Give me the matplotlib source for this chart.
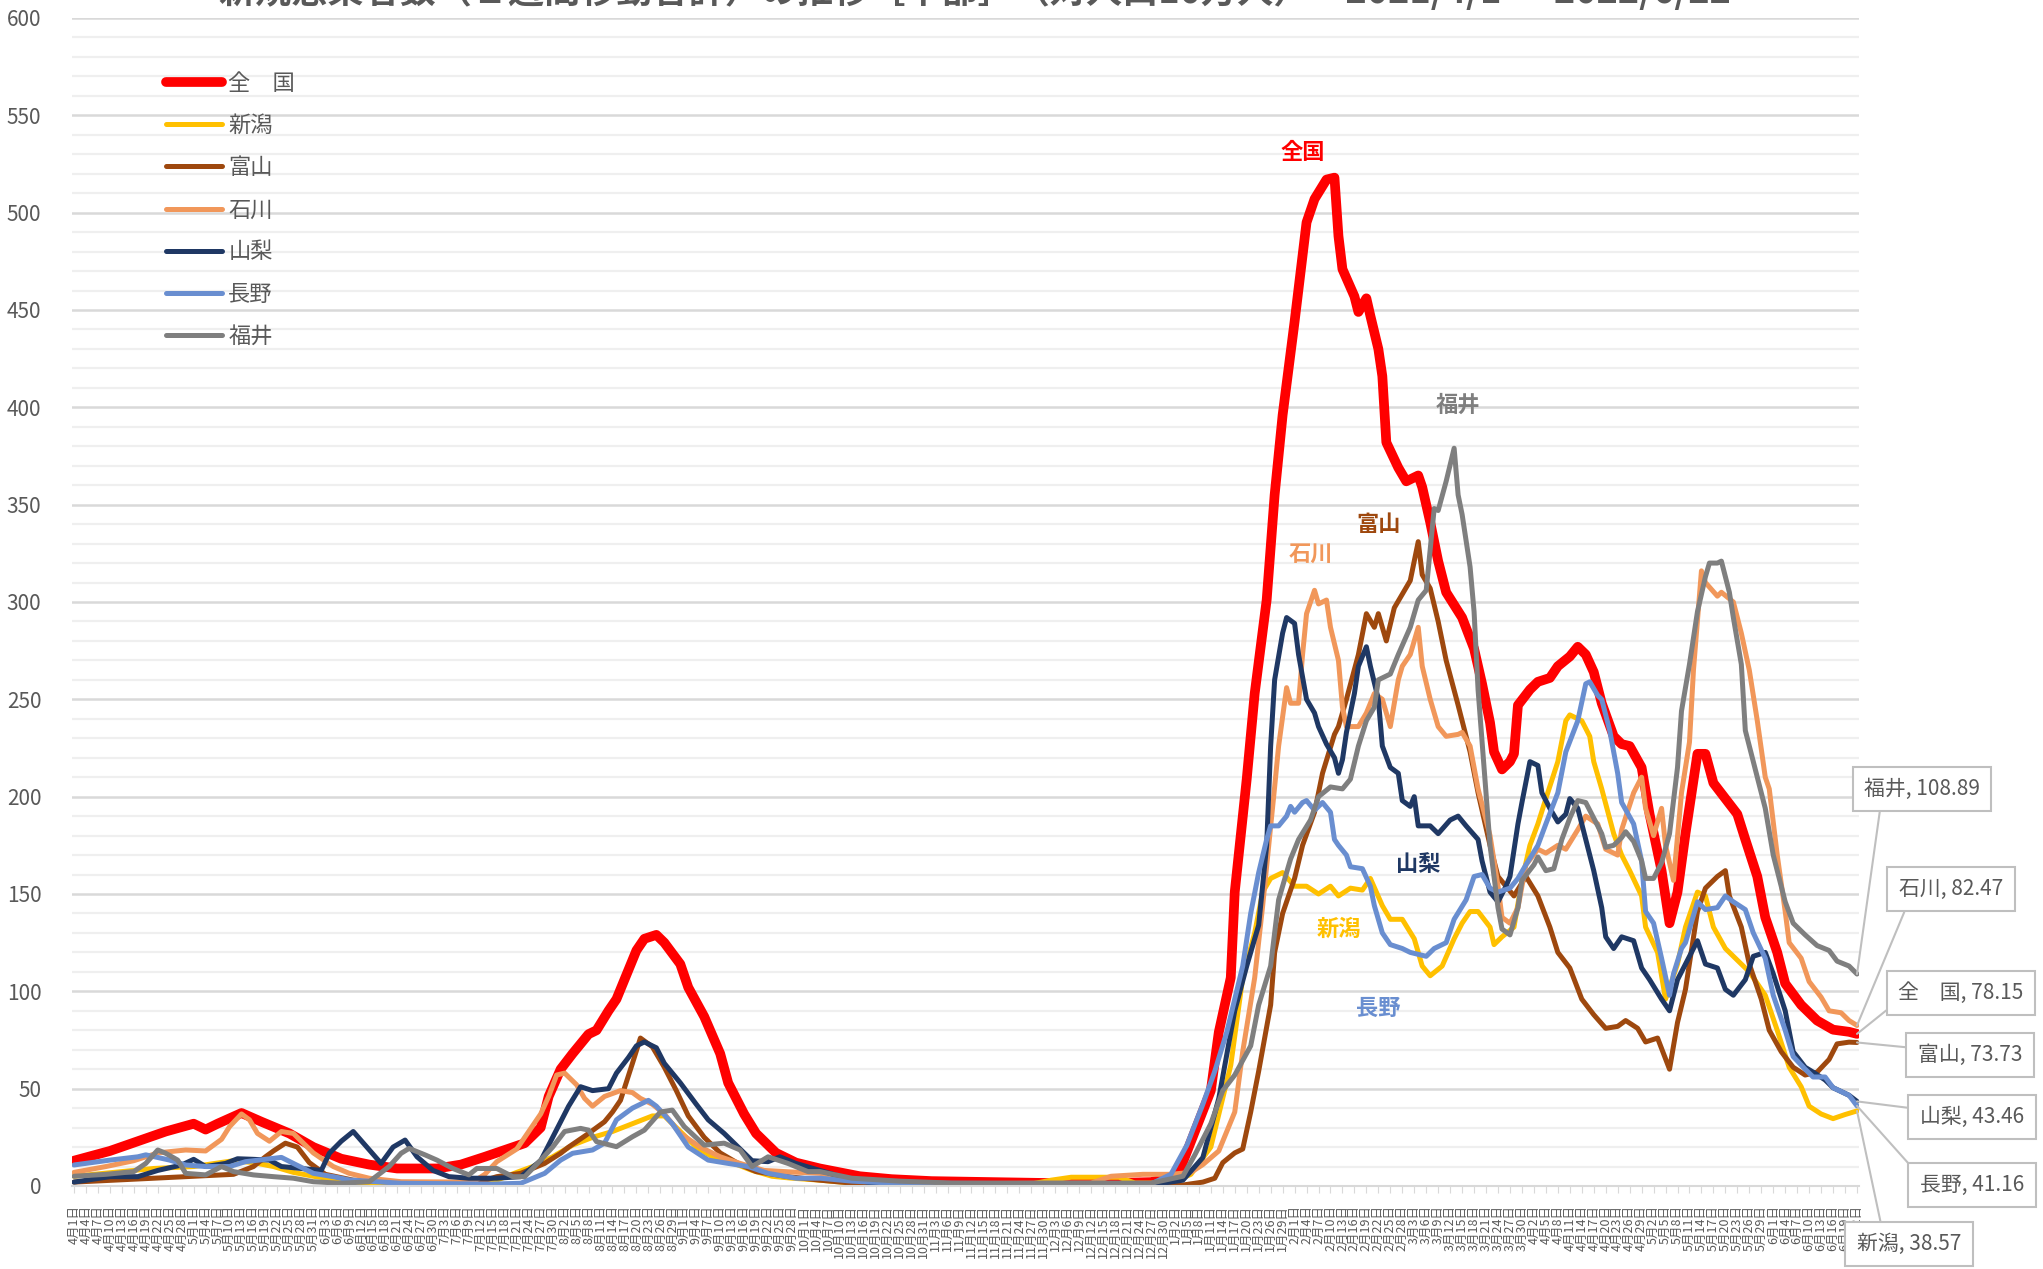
import datetime as dt
import numpy as np
import matplotlib
matplotlib.use("Agg")
import matplotlib.pyplot as plt

plt.rcParams['font.family'] = ['Noto Sans CJK JP', 'DejaVu Sans']

title = "新規感染者数（１週間移動合計）の推移［中部］（対人口10万人）　2021/4/1 ～ 2022/6/22"
start = dt.date(2021, 4, 1)
n_days = 448

# values: day index from 2021/4/1, value per 100k
zenkoku_d = [0, 9, 16, 23, 30, 33, 36, 42, 47, 54, 60, 67, 74, 81, 91, 97, 103, 108, 113, 117, 119, 122, 125, 129, 131, 134, 136, 139, 141, 143, 146, 148, 152, 154, 158, 162, 164, 168, 171, 176, 181, 187, 192, 197, 205, 215, 230, 245, 260, 270, 275, 277, 281, 285, 287, 290, 291, 294, 296, 299, 301, 303, 306, 309, 311, 314, 316, 317, 318, 321, 322, 324, 325, 327, 328, 329, 332, 334, 337, 338, 340, 342, 344, 348, 351, 353, 355, 356, 358, 360, 361, 362, 365, 367, 370, 372, 375, 377, 379, 381, 383, 386, 388, 390, 393, 395, 398, 400, 402, 404, 407, 409, 411, 414, 417, 419, 422, 424, 427, 429, 433, 437, 441, 445, 447]
zenkoku_v = [13, 18, 23, 28, 32, 29, 32, 37.5, 33, 27, 20, 14, 11, 9, 9, 11, 15, 18.5, 22, 30, 46, 60, 68, 78, 80, 90, 96, 111, 121, 127, 129, 125, 114, 102, 87, 68, 53, 37, 27, 17, 12, 9, 7, 5, 3.5, 2.5, 2, 1.5, 1.5, 2, 4.3, 7, 28, 49, 79, 107, 151, 209, 253, 301, 355, 396, 444, 495, 507, 517, 518, 488, 471, 457, 449, 456, 447, 430, 416, 382, 369, 362, 365, 359, 341, 321, 305, 292, 276, 258, 238, 223, 214, 218, 222, 247, 255, 259, 261, 267, 272, 277, 273, 264, 248, 231, 227, 226, 215, 191, 162, 135, 151, 181, 222, 222, 207, 199, 191, 178, 159, 138, 120, 104, 93, 85, 80.3, 79.2, 78.15]

niigata_d = [0, 10, 20, 30, 40, 45, 50, 55, 60, 70, 80, 90, 100, 106, 111, 115, 120, 125, 130, 135, 140, 145, 148, 152, 156, 160, 165, 170, 175, 180, 187, 195, 205, 240, 245, 250, 262, 266, 275, 280, 285, 290, 293, 296, 298, 300, 303, 306, 309, 312, 315, 317, 320, 323, 325, 328, 330, 333, 336, 338, 340, 343, 346, 348, 350, 352, 355, 356, 358, 361, 363, 365, 367, 369, 372, 374, 375, 378, 380, 381, 383, 386, 388, 390, 393, 394, 397, 399, 402, 404, 407, 409, 411, 414, 418, 420, 424, 427, 430, 433, 435, 438, 441, 444, 447]
niigata_v = [5, 7, 9, 10, 13, 12, 10, 7, 5, 2, 1, 0.5, 1, 3, 7, 10, 15, 21, 25, 28, 32, 36, 36, 28, 20, 15, 12, 8, 5, 4, 3, 1.5, 1, 1, 3, 4.5, 4.5, 1.5, 1.5, 6, 20, 62, 107, 130, 151, 158, 161, 154, 154, 150, 154, 149, 153, 152, 158, 144, 137, 137, 127, 113, 108, 113, 127, 135, 141, 141, 133, 124, 128, 133, 157, 175, 186, 199, 218, 239, 242, 239, 231, 218, 204, 181, 170, 162, 149, 133, 120, 96, 114, 133, 151, 149, 133, 122, 114, 110, 98, 80, 61, 51, 41, 37, 34.6, 36.7, 38.57]

toyama_d = [0, 10, 20, 30, 40, 45, 48, 50, 53, 56, 59, 63, 70, 80, 90, 100, 106, 112, 118, 122, 124, 129, 133, 135, 137, 140, 142, 145, 148, 151, 154, 158, 162, 167, 171, 179, 187, 195, 205, 278, 283, 286, 288, 291, 293, 295, 297, 300, 301, 303, 306, 308, 311, 313, 316, 317, 319, 322, 324, 326, 327, 329, 331, 333, 335, 337, 338, 340, 342, 344, 347, 350, 352, 355, 357, 361, 364, 367, 370, 372, 375, 378, 381, 384, 387, 389, 392, 394, 397, 400, 402, 404, 407, 409, 412, 414, 415, 418, 420, 423, 425, 428, 431, 434, 437, 440, 442, 445, 447]
toyama_v = [2, 3, 4, 5, 6, 10, 15, 18, 22, 20, 12, 6, 3, 2, 1, 1, 4.8, 6.5, 11.6, 16.8, 20, 27, 33, 38, 44, 63, 76, 71.5, 61, 49, 36, 25, 17, 11, 7.4, 4.8, 3, 1.5, 0.8, 0.5, 2, 4, 12, 17, 19, 38, 59, 93, 120, 140, 158, 175, 192, 212, 232, 236, 250, 273, 294, 287, 294, 280, 297, 304, 311, 331, 314, 307, 290, 270, 247, 223, 202, 175, 159, 149, 159, 149, 133, 120, 112, 96, 88, 81, 82, 85, 81, 74, 76, 60, 84, 101, 141, 153, 159, 162, 149, 133, 114, 96, 80, 69, 61, 57, 58.5, 65, 73, 73.9, 73.73]

ishikawa_d = [0, 8, 15, 21, 28, 33, 37, 39, 42, 44, 46, 49, 52, 55, 57, 60, 65, 69, 74, 82, 100, 103, 106, 111, 113, 117, 119, 121, 123, 126, 128, 130, 133, 137, 140, 142, 145, 148, 152, 157, 162, 167, 173, 179, 187, 193, 200, 220, 255, 260, 268, 275, 280, 283, 287, 291, 293, 296, 298, 301, 302, 304, 305, 307, 308, 309, 311, 312, 314, 315, 317, 318, 319, 322, 324, 326, 328, 330, 332, 333, 335, 337, 338, 340, 342, 344, 347, 348, 350, 352, 355, 357, 358, 360, 362, 364, 367, 369, 372, 374, 377, 379, 382, 384, 387, 388, 391, 393, 394, 396, 398, 399, 401, 403, 405, 406, 408, 409, 412, 413, 416, 418, 420, 422, 424, 425, 427, 429, 430, 433, 435, 438, 440, 443, 445, 447]
ishikawa_v = [7, 10, 13, 17, 18.5, 18, 24, 30.5, 37, 34, 27, 23, 28, 27, 23, 17, 10, 6.5, 4, 2.2, 2, 6, 12.5, 19, 25, 37, 46, 57, 58, 52, 45, 41, 46, 49, 48, 45, 42, 37, 27, 20, 15, 11.6, 8, 7.3, 6.5, 4, 2.5, 1.2, 1.5, 5, 6, 6, 7, 11, 18, 38, 69, 107, 144, 205, 226, 256, 248, 248, 273, 294, 306, 299, 301, 287, 270, 246, 236, 236, 243, 253, 250, 236, 260, 267, 273, 287, 267, 250, 236, 231, 232, 233, 226, 204, 180, 154, 138, 135, 143, 165, 173, 171, 175, 173, 183, 190, 186, 173, 170, 183, 202, 210, 194, 180, 194, 175, 157, 202, 228, 265, 316, 310, 303, 305, 300, 284, 265, 239, 210, 204, 170, 141, 125, 117, 105, 97, 90, 89, 85, 82.47]

yamanashi_d = [0, 9, 16, 21, 27, 30, 33, 38, 41, 45, 49, 52, 57, 62, 64, 67, 70, 73, 77, 80, 83, 86, 90, 94, 99, 106, 112, 117, 120, 124, 127, 130, 134, 136, 139, 141, 143, 146, 148, 152, 156, 159, 163, 167, 170, 174, 177, 181, 187, 192, 200, 220, 270, 278, 283, 287, 291, 294, 297, 299, 300, 301, 303, 304, 306, 307, 309, 311, 312, 314, 316, 317, 318, 319, 321, 322, 324, 325, 327, 328, 330, 332, 333, 335, 336, 337, 340, 342, 345, 347, 349, 352, 353, 355, 357, 359, 360, 362, 363, 365, 367, 368, 370, 372, 374, 375, 377, 379, 381, 383, 384, 386, 388, 391, 393, 395, 398, 400, 402, 404, 407, 409, 412, 414, 416, 419, 421, 424, 426, 429, 431, 434, 436, 439, 441, 445, 447]
yamanashi_v = [2, 4.8, 4.8, 8, 10.8, 13.7, 10, 11.6, 14, 13.7, 13.3, 10, 9, 8, 16.8, 23, 28, 21, 11.6, 20, 23.6, 15, 8, 4.8, 4, 4, 4.8, 13, 25, 41, 51, 49, 50, 58, 66, 72, 74, 71, 63, 53, 42, 34, 27, 19, 13, 12.5, 15, 11.6, 8, 5, 1.5, 0.8, 0.5, 3, 14.6, 45, 90, 113, 134, 175, 226, 260, 284, 292, 289, 273, 250, 243, 236, 227, 220, 212, 219, 233, 253, 267, 277, 267, 250, 226, 215, 212, 198, 195, 200, 185, 185, 181, 188, 190, 185, 178, 167, 151, 146, 154, 159, 186, 197, 218, 216, 202, 194, 187, 191, 199, 194, 178, 162, 143, 128, 122, 128, 126, 112, 106, 96, 90, 106, 114, 126, 114, 112, 101, 98, 106, 118, 120, 109, 90, 69, 61, 58.5, 54.5, 50.5, 46.6, 43.46]

nagano_d = [0, 9, 16, 18, 24, 28, 33, 39, 43, 48, 52, 55, 60, 65, 69, 76, 82, 105, 112, 118, 122, 125, 130, 133, 136, 140, 144, 146, 150, 154, 159, 164, 169, 174, 181, 187, 195, 205, 270, 275, 279, 283, 286, 289, 293, 295, 297, 299, 300, 302, 304, 305, 306, 308, 309, 311, 313, 315, 316, 317, 319, 320, 323, 325, 326, 328, 330, 333, 335, 339, 341, 344, 346, 349, 351, 353, 355, 357, 360, 362, 364, 367, 369, 372, 374, 377, 379, 380, 382, 383, 385, 387, 388, 391, 393, 394, 396, 398, 400, 401, 403, 404, 407, 409, 412, 414, 416, 419, 421, 424, 426, 429, 431, 434, 436, 439, 441, 445, 447]
nagano_v = [10.8, 13.3, 15, 16, 13.3, 10.8, 10, 10, 12.5, 13.7, 14.7, 11.6, 6.5, 4.8, 3.1, 2.2, 1.4, 1, 1.4, 6.5, 13.3, 16.8, 18.5, 22, 34, 40, 44, 41, 32, 20, 13.3, 11.6, 10, 6.5, 4, 4, 2.5, 1.5, 1, 6, 21, 42, 59, 79, 113, 140, 161, 178, 185, 185, 190, 195, 192, 197, 198, 193, 197, 192, 178, 175, 170, 164, 163, 154, 144, 130, 124, 122, 120, 118, 122, 125, 137, 147, 159, 160, 153, 151, 153, 158, 165, 175, 186, 202, 223, 239, 258, 259, 252, 250, 234, 212, 197, 186, 167, 141, 135, 117, 98, 109, 122, 125, 146, 142, 143, 149, 146, 142, 130, 117, 98, 80, 66.5, 60, 56, 56, 50.5, 46.6, 41.16]

fukui_d = [0, 8, 15, 18, 21, 23, 26, 28, 33, 37, 40, 45, 50, 55, 60, 67, 74, 79, 82, 84, 88, 91, 95, 99, 101, 106, 110, 113, 117, 120, 123, 127, 129, 131, 136, 140, 143, 147, 150, 153, 158, 163, 167, 170, 174, 179, 184, 187, 195, 207, 220, 270, 278, 281, 285, 288, 291, 295, 297, 300, 302, 305, 307, 310, 312, 315, 318, 320, 322, 324, 326, 327, 330, 332, 335, 337, 339, 341, 342, 344, 346, 347, 348, 350, 351, 352, 354, 355, 357, 358, 360, 362, 363, 366, 367, 369, 371, 373, 375, 377, 379, 381, 383, 384, 386, 388, 389, 391, 393, 394, 396, 398, 400, 402, 403, 405, 407, 409, 410, 412, 413, 415, 416, 418, 419, 421, 424, 426, 429, 431, 434, 437, 440, 442, 445, 447]
fukui_v = [5, 6, 7.4, 11.6, 18.5, 16.8, 13.3, 6.5, 5.7, 10, 7.4, 5.7, 4.8, 4, 2.2, 1.4, 2.2, 10, 16.8, 19.3, 16, 13.3, 9, 5.7, 9, 9, 4.8, 4.8, 13.3, 20, 28, 29.6, 28.7, 22.8, 20.2, 25.3, 28.7, 38, 39, 30.5, 21, 22, 18.5, 10, 15, 11.6, 7.4, 7.4, 4, 2.5, 1.5, 1.5, 5, 16, 32, 49, 57, 72, 93, 113, 147, 168, 178, 188, 200, 205, 204, 209, 226, 239, 246, 260, 263, 273, 287, 301, 306, 348, 347, 362, 379, 355, 345, 318, 295, 255, 202, 175, 143, 132, 129, 143, 157, 165, 169, 162, 163, 178, 189, 198, 197, 189, 181, 174, 175, 179, 182, 177, 167, 158, 158, 166, 181, 215, 244, 268, 295, 313, 320, 320, 321, 305, 292, 268, 234, 218, 194, 170, 146, 135, 129, 123.5, 121, 115.5, 113, 108.89]

names = ["全　国", "新潟", "富山", "石川", "山梨", "長野", "福井"]
colors = ["#FF0000", "#FFC000", "#9E480E", "#F1975A", "#1F3864", "#698ED0", "#7F7F7F"]
days_list = [zenkoku_d, niigata_d, toyama_d, ishikawa_d, yamanashi_d, nagano_d, fukui_d]
vals_list = [zenkoku_v, niigata_v, toyama_v, ishikawa_v, yamanashi_v, nagano_v, fukui_v]

fig = plt.figure(figsize=(20.43, 12.69), dpi=100)
ax = fig.add_axes([72 / 2043, 83 / 1269, 1787 / 2043, 1168 / 1269])

for name, c, d, v in zip(names, colors, days_list, vals_list):
    lw = 7 if name == "全　国" else 3.6
    ax.plot(d, v, color=c, lw=lw, label=name, solid_capstyle='round', solid_joinstyle='round')

ax.set_xlim(-0.5, n_days - 0.5)
ax.set_ylim(0, 600)
ax.set_yticks(range(0, 601, 50))
ax.set_yticks(range(0, 601, 10), minor=True)
ax.grid(which='major', axis='y', color='#D9D9D9', lw=1.8, zorder=0)
ax.grid(which='minor', axis='y', color='#EFEFEF', lw=1.6, zorder=0)
ax.set_axisbelow(True)
ax.tick_params(axis='y', which='both', length=0, pad=22, labelsize=15, labelcolor='#595959')

xt = list(range(0, n_days, 3))
xl = []
for i in xt:
    day = start + dt.timedelta(days=i)
    xl.append(f"{day.month}月{day.day}日")
ax.set_xticks(xt)
ax.set_xticklabels(xl, rotation=90, fontsize=9, color='#595959')
ax.tick_params(axis='x', length=5, color='#D9D9D9', pad=9)

for s in ['top', 'right', 'left']:
    ax.spines[s].set_visible(False)
ax.spines['bottom'].set_color('#D9D9D9')
ax.spines['bottom'].set_linewidth(1.5)

leg = ax.legend(loc='upper left', bbox_to_anchor=(146 / 2043, 1 - 52 / 1269),
                bbox_transform=fig.transFigure, frameon=False, fontsize=16,
                handlelength=2.5, handletextpad=0.3, labelspacing=0.86)
for t in leg.get_texts():
    t.set_color('#595959')

# labels inside the plot
inner = [("全国", 308, 531, "#FF0000"), ("福井", 347, 401, "#7F7F7F"),
         ("富山", 327, 340, "#9E480E"), ("石川", 310, 324, "#F1975A"),
         ("山梨", 337, 165, "#1F3864"), ("新潟", 317, 132, "#FFC000"),
         ("長野", 327, 91, "#698ED0")]
for txt, x, y, c in inner:
    ax.text(x, y, txt, color=c, fontsize=16, fontweight='bold', ha='center', va='center')

# end value call-outs
last = [v[-1] for v in vals_list]
callouts = [(6, 1922, 480, (0.15, 0.0)), (3, 1951, 380, (0.1, 0.0)),
            (0, 1961, 276, (0.0, 0.15)), (2, 1970, 214, (0.0, 0.8)),
            (4, 1972, 152, (0.0, 0.85)), (5, 1972, 84, (0.0, 0.9)),
            (1, 1909, 25, (0.25, 1.0))]
for k, fx, fy, rp in callouts:
    ax.annotate(f"{names[k]}, {last[k]:.2f}", xy=(n_days - 1, last[k]), xytext=(fx, fy),
                textcoords='figure pixels', ha='center', va='center', fontsize=15,
                color='#595959', annotation_clip=False,
                bbox=dict(boxstyle='square,pad=0.55', fc='white', ec='#BFBFBF', lw=1.5),
                arrowprops=dict(arrowstyle='-', color='#BFBFBF', lw=1.5, relpos=rp,
                                shrinkA=0, shrinkB=0))

fig.text(975 / 2043, 1 + 8 / 1269, title, ha='center', va='center', fontsize=26,
         fontweight='bold', color='#595959')

fig.savefig("out.png", dpi=100)
